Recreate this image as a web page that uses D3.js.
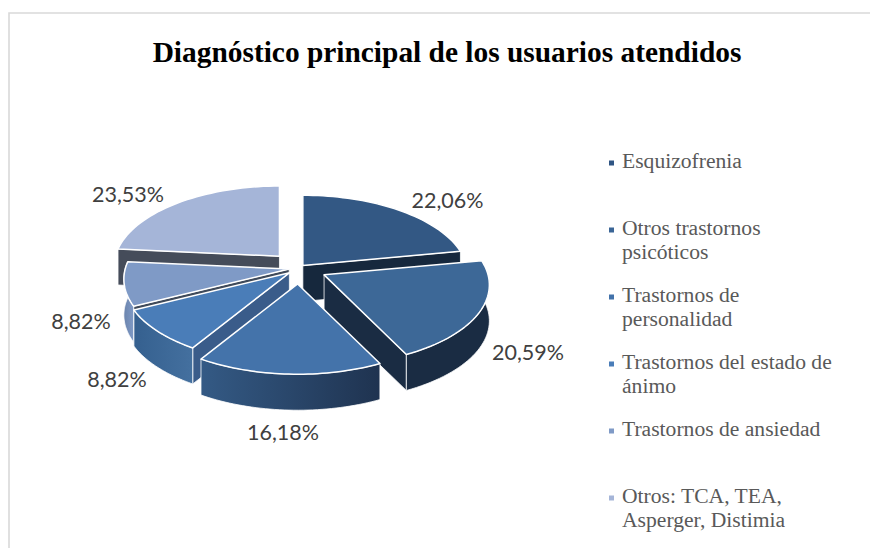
<!DOCTYPE html>
<html><head><meta charset="utf-8">
<script src="https://cdn.jsdelivr.net/npm/d3@7/dist/d3.min.js"></script>
<style>html,body{margin:0;padding:0;background:#fff}svg{display:block}</style>
</head><body><div id="c"></div>
<script>
const title = "Diagnóstico principal de los usuarios atendidos";
const categories = ["Esquizofrenia","Otros trastornos psicóticos","Trastornos de personalidad","Trastornos del estado de ánimo","Trastornos de ansiedad","Otros: TCA, TEA, Asperger, Distimia"];
const values = [22.06,20.59,16.18,8.82,8.82,23.53];
const legendLines = [["Esquizofrenia"],["Otros trastornos","psicóticos"],["Trastornos de","personalidad"],["Trastornos del estado de","ánimo"],["Trastornos de ansiedad"],["Otros: TCA, TEA,","Asperger, Distimia"]];
const topColors = ["#335884","#3d6897","#4473aa","#4a7db8","#7f9ac6","#a5b5d8"];
const legendColors = ["#2f5583","#3a6596","#4272aa","#4a7db8","#7f9ac6","#a5b5d8"];
const radialWallColors = ["#16283d","#1a2c43","#1f3350","#3a5c8a","#3f4a5a","#454c5a"];
const rimGradients = [["#16283d","#16283d"],["#1a2c43","#1a2c43"],["#345a85","#1f3350"],["#35608f","#44709f"],["#6b84ad","#7f9ac6"],["#454c5a","#454c5a"]];
const pull = [6,28,29,13,10,29];
const labelAnchors = [[447.5,208],[528,360],[283,440],[117,387],[81,329],[128,202]];

const W=870,H=548, cx=299, cy=268, R=164, kR=79, pullTilt=0.55, persp=0.125, depth=36;
const svg=d3.select("#c").append("svg").attr("width",W).attr("height",H);
const defs=svg.append("defs");
svg.append("path").attr("d",d3.line()([[9,H],[9,13],[W,13]])).attr("fill","none").attr("stroke","#d9d9d9").attr("stroke-width",1.6);
svg.append("text").text(title).attr("x",447).attr("y",62).attr("text-anchor","middle")
  .attr("font-family","'Liberation Serif',serif").attr("font-weight","bold").attr("font-size",29.4).attr("fill","#000");

const pie=d3.pie().sort(null).value(d=>d)(values);
function local(theta,r){ const z=-Math.cos(theta)*r, s=1/(1-persp*z);
  return [R*Math.sin(theta)*r*s, kR*z*s]; }
function apexOf(d,i){ const b=(d.startAngle+d.endAngle)/2;
  return [cx+pull[i]*Math.sin(b), cy-pull[i]*Math.cos(b)*pullTilt]; }
function rim(d,a){ const n=40; return d3.range(n+1).map(j=>{
  const t=d.startAngle+(d.endAngle-d.startAngle)*j/n, p=local(t,1); return [a[0]+p[0],a[1]+p[1]];}); }
const line=d3.line();
const order=pie.map((d,i)=>i).sort((p,q)=>{
  const f=i=>{const b=(pie[i].startAngle+pie[i].endAngle)/2; return -Math.cos(b);};
  return f(p)-f(q);});
const g=svg.append("g");
order.forEach(i=>{
  const d=pie[i], a=apexOf(d,i), edge=rim(d,a);
  const down=p=>[p[0],p[1]+depth];
  const addPath=(pts,fill,sw)=>g.append("path").attr("d",line(pts)+"Z").attr("fill",fill)
    .attr("stroke","#fff").attr("stroke-width",sw).attr("stroke-linejoin","round");
  if(-Math.sin(d.startAngle)>1e-6){ const p=edge[0]; addPath([a,p,down(p),down(a)],radialWallColors[i],0.8); }
  if(Math.sin(d.endAngle)>1e-6){ const p=edge[edge.length-1]; addPath([a,p,down(p),down(a)],radialWallColors[i],0.8); }
  if(d.endAngle>Math.PI/2 && d.startAngle<Math.PI*1.5){
    const xs=edge.map(p=>p[0]), gid="rim"+i;
    const lg=defs.append("linearGradient").attr("id",gid).attr("gradientUnits","userSpaceOnUse")
      .attr("x1",d3.min(xs)).attr("x2",d3.max(xs)).attr("y1",0).attr("y2",0);
    lg.append("stop").attr("offset",0).attr("stop-color",rimGradients[i][0]);
    lg.append("stop").attr("offset",1).attr("stop-color",rimGradients[i][1]);
    addPath(edge.concat(edge.slice().reverse().map(down)),`url(#${gid})`,0.8);
  }
  addPath([a].concat(edge),topColors[i],1.5);
});
values.forEach((v,i)=>{
  svg.append("text").text(d3.format(".2f")(v).replace(".",",")+"%")
   .attr("x",labelAnchors[i][0]).attr("y",labelAnchors[i][1]).attr("text-anchor","middle")
   .attr("font-family","Lato,sans-serif").attr("font-size",21.5).attr("fill","#404040");
});
const ly=d3.scaleLinear().domain([0,5]).range([167.5,502.5]);
legendLines.forEach((lines,i)=>{
  const y=ly(i);
  svg.append("rect").attr("x",609).attr("y",y-7).attr("width",5).attr("height",5).attr("fill",legendColors[i]);
  lines.forEach((t,j)=>svg.append("text").text(t).attr("x",622).attr("y",y+j*24)
    .attr("font-family","'Liberation Serif',serif").attr("font-size",21.6).attr("fill","#595959"));
});
</script></body></html>
